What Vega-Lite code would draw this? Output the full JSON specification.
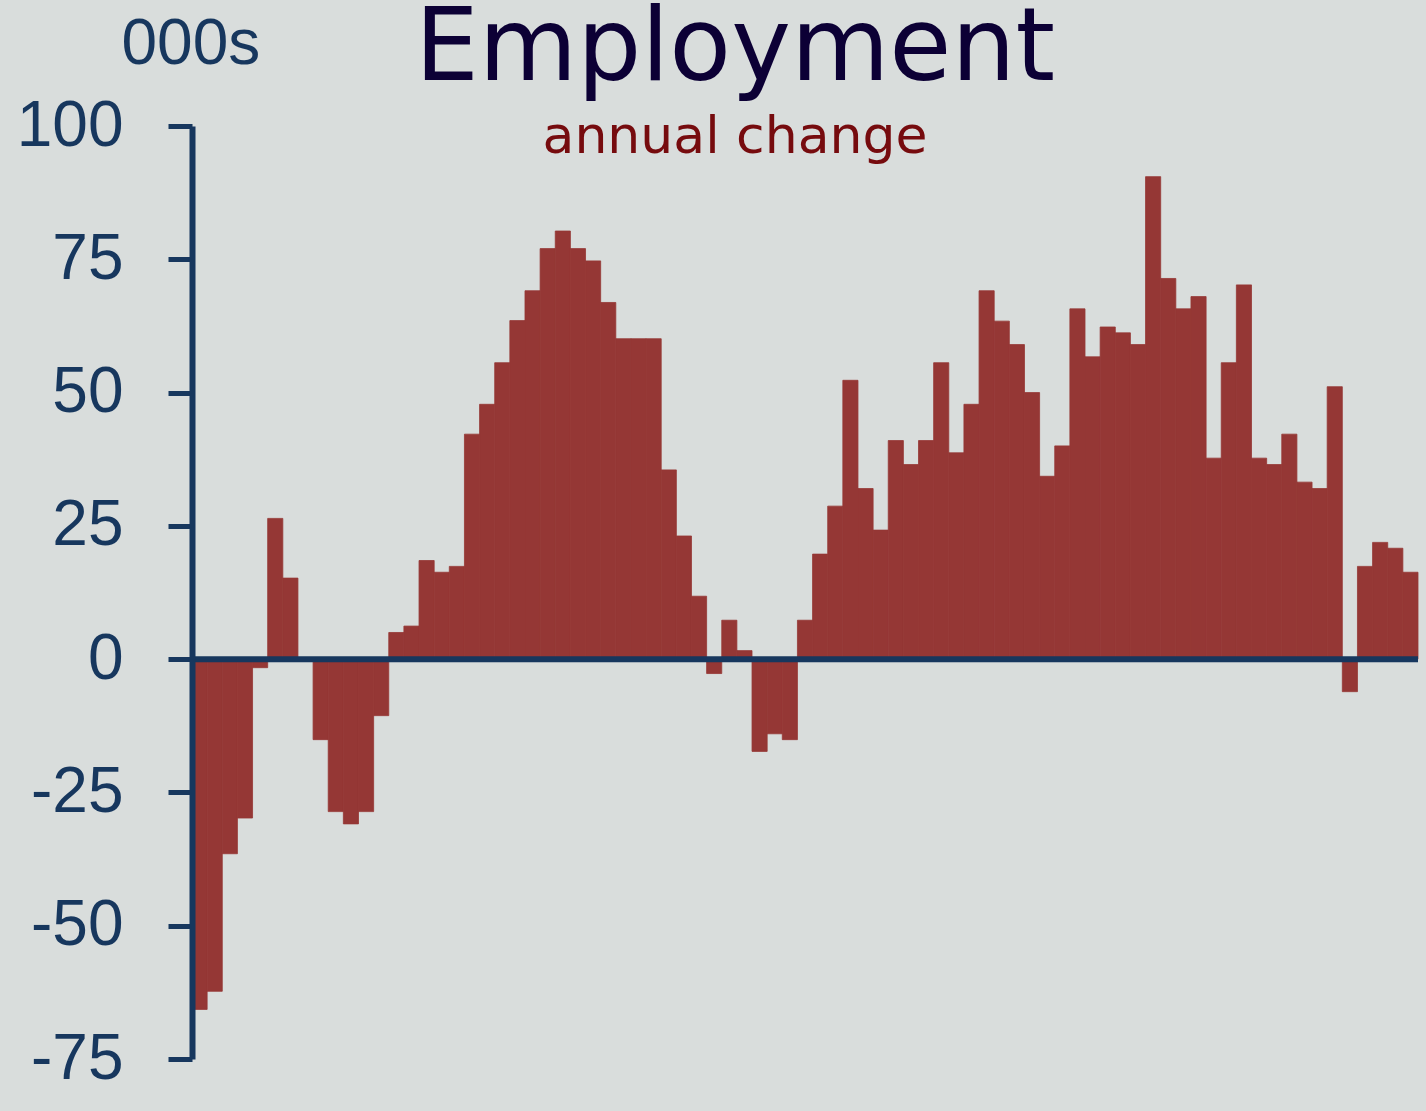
{
  "$schema": "https://vega.github.io/schema/vega-lite/v6.json",
  "width": 1226,
  "height": 933,
  "autosize": {"type": "none"},
  "padding": {"left": 192, "top": 126, "right": 8, "bottom": 52},
  "background": "#D9DDDC",
  "config": {"view": {"stroke": null}},
  "title": {
    "text": "Employment",
    "subtitle": "annual change",
    "font": "DejaVu Sans",
    "fontSize": 101,
    "fontWeight": "normal",
    "color": "#0C0035",
    "subtitleFont": "DejaVu Sans",
    "subtitleFontSize": 52,
    "subtitleColor": "#760B0E",
    "subtitlePadding": 11,
    "anchor": "middle",
    "frame": "group",
    "dx": -70,
    "offset": -152
  },
  "layer": [
    {
      "data": {"values": [
        {"quarter": 1, "change": -65.7}, {"quarter": 2, "change": -62.3}, {"quarter": 3, "change": -36.5}, {"quarter": 4, "change": -29.8},
        {"quarter": 5, "change": -1.6}, {"quarter": 6, "change": 26.4}, {"quarter": 7, "change": 15.2}, {"quarter": 8, "change": 0.3},
        {"quarter": 9, "change": -15.1}, {"quarter": 10, "change": -28.6}, {"quarter": 11, "change": -30.9}, {"quarter": 12, "change": -28.6},
        {"quarter": 13, "change": -10.6}, {"quarter": 14, "change": 5.0}, {"quarter": 15, "change": 6.2}, {"quarter": 16, "change": 18.5},
        {"quarter": 17, "change": 16.3}, {"quarter": 18, "change": 17.4}, {"quarter": 19, "change": 42.2}, {"quarter": 20, "change": 47.8},
        {"quarter": 21, "change": 55.6}, {"quarter": 22, "change": 63.5}, {"quarter": 23, "change": 69.1}, {"quarter": 24, "change": 77.0},
        {"quarter": 25, "change": 80.3}, {"quarter": 26, "change": 77.0}, {"quarter": 27, "change": 74.7}, {"quarter": 28, "change": 66.9},
        {"quarter": 29, "change": 60.1}, {"quarter": 30, "change": 60.1}, {"quarter": 31, "change": 60.1}, {"quarter": 32, "change": 35.5},
        {"quarter": 33, "change": 23.1}, {"quarter": 34, "change": 11.8}, {"quarter": 35, "change": -2.7}, {"quarter": 36, "change": 7.3},
        {"quarter": 37, "change": 1.6}, {"quarter": 38, "change": -17.3}, {"quarter": 39, "change": -14.0}, {"quarter": 40, "change": -15.1},
        {"quarter": 41, "change": 7.3}, {"quarter": 42, "change": 19.7}, {"quarter": 43, "change": 28.7}, {"quarter": 44, "change": 52.3},
        {"quarter": 45, "change": 32.0}, {"quarter": 46, "change": 24.2}, {"quarter": 47, "change": 41.0}, {"quarter": 48, "change": 36.5},
        {"quarter": 49, "change": 41.0}, {"quarter": 50, "change": 55.6}, {"quarter": 51, "change": 38.7}, {"quarter": 52, "change": 47.8},
        {"quarter": 53, "change": 69.1}, {"quarter": 54, "change": 63.4}, {"quarter": 55, "change": 59.0}, {"quarter": 56, "change": 50.0},
        {"quarter": 57, "change": 34.3}, {"quarter": 58, "change": 40.0}, {"quarter": 59, "change": 65.7}, {"quarter": 60, "change": 56.7},
        {"quarter": 61, "change": 62.3}, {"quarter": 62, "change": 61.2}, {"quarter": 63, "change": 59.0}, {"quarter": 64, "change": 90.5},
        {"quarter": 65, "change": 71.4}, {"quarter": 66, "change": 65.7}, {"quarter": 67, "change": 68.0}, {"quarter": 68, "change": 37.7},
        {"quarter": 69, "change": 55.6}, {"quarter": 70, "change": 70.2}, {"quarter": 71, "change": 37.7}, {"quarter": 72, "change": 36.5},
        {"quarter": 73, "change": 42.2}, {"quarter": 74, "change": 33.2}, {"quarter": 75, "change": 32.0}, {"quarter": 76, "change": 51.1},
        {"quarter": 77, "change": -6.1}, {"quarter": 78, "change": 17.4}, {"quarter": 79, "change": 21.9}, {"quarter": 80, "change": 20.8},
        {"quarter": 81, "change": 16.3}
      ]},
      "mark": {"type": "bar", "color": "#953735", "stroke": "#953735", "strokeWidth": 0.8},
      "encoding": {
        "x": {"field": "quarter", "type": "ordinal", "axis": null, "scale": {"paddingInner": 0, "paddingOuter": 0}},
        "y": {
          "field": "change",
          "type": "quantitative",
          "title": "000s",
          "scale": {"domain": [-75, 100], "nice": false, "zero": false},
          "axis": {
            "values": [-75, -50, -25, 0, 25, 50, 75, 100],
            "labelExpr": "'' + datum.value",
            "title": "000s",
            "titleAngle": 0,
            "titleAlign": "left",
            "titleBaseline": "alphabetic",
            "titleX": -71,
            "titleY": -63,
            "titleFont": "Liberation Sans",
            "titleFontSize": 64,
            "titleFontWeight": "normal",
            "titleColor": "#17375E",
            "labelFont": "Liberation Sans",
            "labelFontSize": 64,
            "labelColor": "#17375E",
            "labelPadding": 45,
            "labelOverlap": false,
            "labelFlush": false,
            "tickSize": 24,
            "tickWidth": 5,
            "tickColor": "#17375E",
            "domainColor": "#17375E",
            "domainWidth": 6,
            "grid": false,
            "zindex": 1
          }
        }
      }
    },
    {
      "data": {"values": [{"level": 0}]},
      "mark": {"type": "rule", "color": "#17375E", "strokeWidth": 6},
      "encoding": {
        "y": {"field": "level", "type": "quantitative", "title": "000s"}
      }
    }
  ]
}
